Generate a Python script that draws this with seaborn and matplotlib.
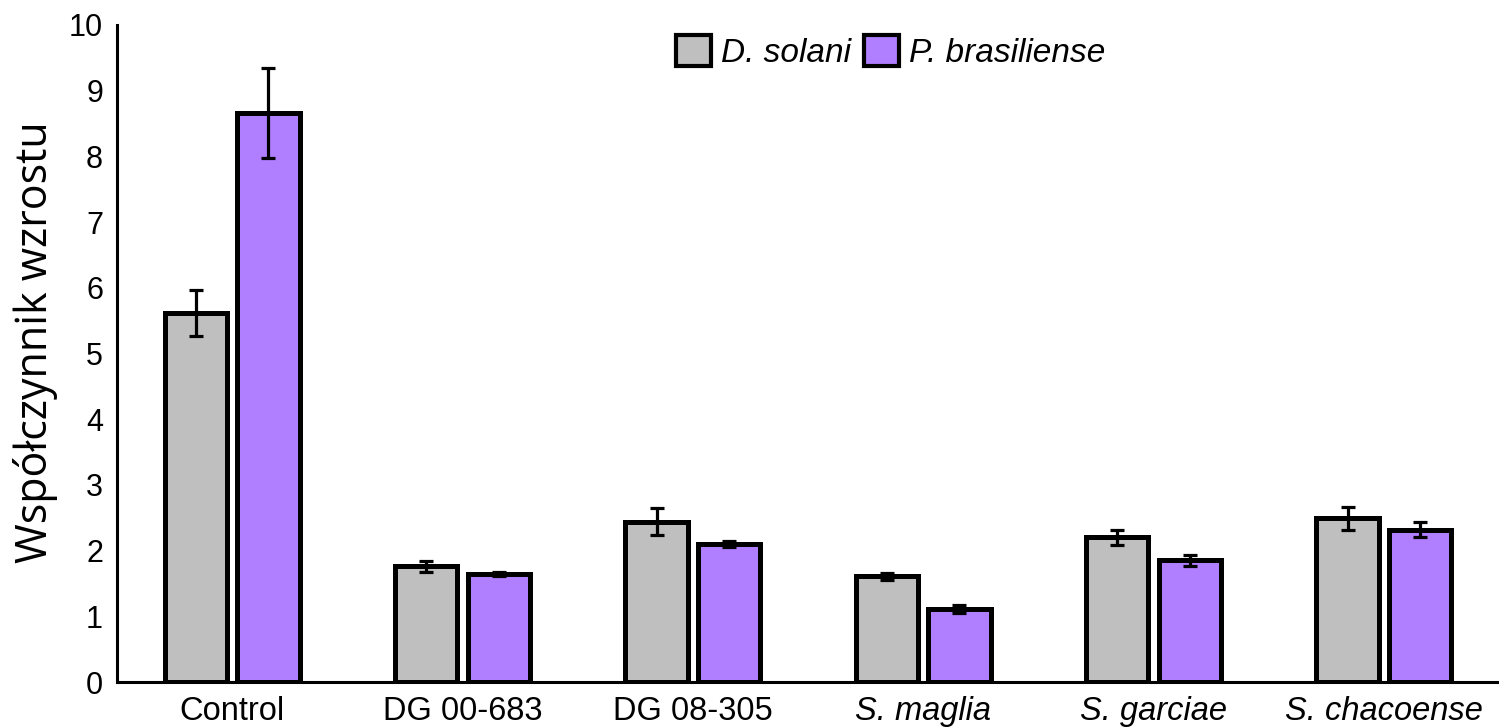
import matplotlib
matplotlib.use("Agg")
import matplotlib.pyplot as plt
import seaborn as sns
import pandas as pd
from matplotlib.patches import Patch

# Data
categories = ["Control", "DG 00-683", "DG 08-305", "S. maglia", "S. garciae", "S. chacoense"]
italic_categories = ["S. maglia", "S. garciae", "S. chacoense"]
species = ["D. solani", "P. brasiliense"]
d_solani = [5.62, 1.76, 2.44, 1.61, 2.20, 2.49]
d_solani_err = [0.35, 0.08, 0.21, 0.05, 0.12, 0.17]
p_brasiliense = [8.66, 1.65, 2.10, 1.11, 1.85, 2.32]
p_brasiliense_err = [0.68, 0.03, 0.05, 0.06, 0.09, 0.11]
colors = ["#bfbfbf", "#b07fff"]

df = pd.DataFrame({
    "category": categories * 2,
    "species": [species[0]] * len(categories) + [species[1]] * len(categories),
    "value": d_solani + p_brasiliense,
    "err": d_solani_err + p_brasiliense_err,
})

sns.set_style("white", {"text.color": "black", "axes.edgecolor": "black",
                        "axes.labelcolor": "black", "xtick.color": "black",
                        "ytick.color": "black"})
plt.rcParams["font.family"] = ["Liberation Sans", "DejaVu Sans"]

fig = plt.figure(figsize=(14.99, 7.28), dpi=100)
ax = fig.add_axes([117 / 1499, 46 / 728, 1 - 117 / 1499, 657 / 728])

sns.barplot(data=df, x="category", y="value", hue="species", order=categories,
            hue_order=species, palette=colors, errorbar=None, width=0.63, gap=0.14,
            edgecolor="black", linewidth=3.6, saturation=1, legend=False, ax=ax)

# error bars at the bar centres seaborn placed
for cont, errs in zip(ax.containers, [d_solani_err, p_brasiliense_err]):
    xs = [b.get_x() + b.get_width() / 2 for b in cont]
    ys = [b.get_height() for b in cont]
    ax.errorbar(xs, ys, yerr=errs, fmt="none", ecolor="black", elinewidth=2.3,
                capsize=4.8, capthick=2.3, zorder=5)

ax.set_xlim(-0.5, 5.5)
ax.set_ylim(0, 10)
ax.set_yticks(range(0, 11))
ax.set_xlabel("")
ax.set_ylabel("Współczynnik wzrostu", family=["Open Sans", "DejaVu Sans"],
              fontsize=31, labelpad=8, color="black")
ax.yaxis.label.set_y(0.517)

sns.despine(ax=ax)
ax.spines["left"].set_linewidth(2.2)
ax.spines["bottom"].set_linewidth(2.2)
ax.tick_params(axis="y", direction="in", length=8, width=2, labelsize=22, pad=10,
               labelcolor="black")
ax.tick_params(axis="x", direction="out", length=6, width=2, labelsize=23.5, pad=4,
               labelcolor="black")

for lbl in ax.get_xticklabels():
    if lbl.get_text() in italic_categories:
        lbl.set_style("italic")

handles = [Patch(facecolor=c, edgecolor="black", linewidth=3) for c in colors]
leg = ax.legend(handles, species, loc="upper center", bbox_to_anchor=(0.56, 1.03),
                ncol=2, frameon=False, fontsize=24, handlelength=1.05, handleheight=1.05,
                handletextpad=0.3, columnspacing=0.4)
for t in leg.get_texts():
    t.set_style("italic")
    t.set_color("black")

fig.savefig("out.png", dpi=100)
